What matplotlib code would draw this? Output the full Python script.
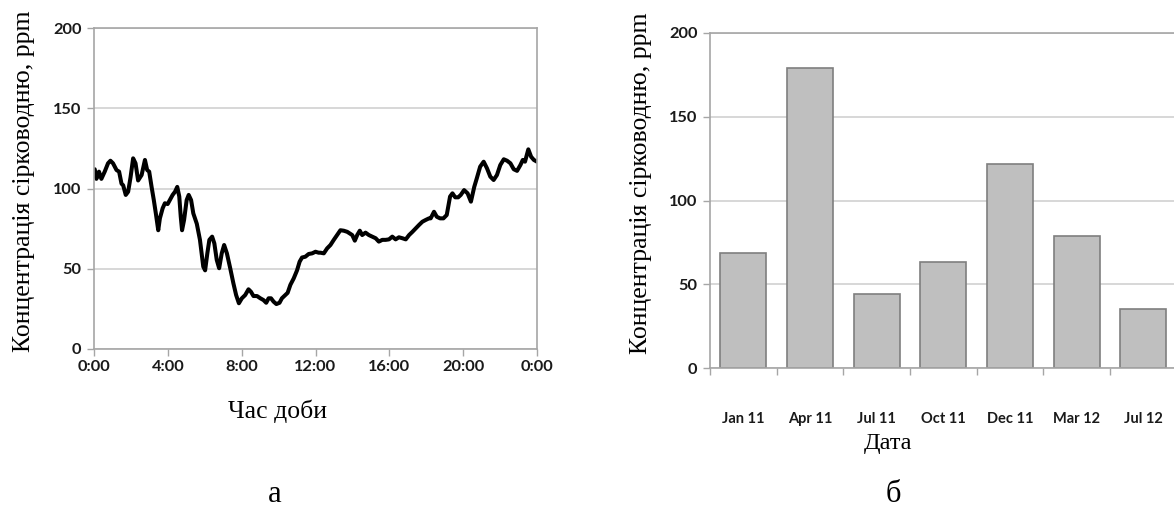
import matplotlib
matplotlib.use("Agg")
import matplotlib.pyplot as plt
from matplotlib.ticker import FixedLocator, NullFormatter

# --- Data -------------------------------------------------------------
# Daily hydrogen sulphide concentration (hours since midnight, ppm)
hours = [0.04, 0.13, 0.27, 0.40, 0.58, 0.76, 0.89, 1.03, 1.22, 1.36, 1.49, 1.58,
         1.72, 1.85, 1.98, 2.12, 2.25, 2.39, 2.58, 2.76, 2.88, 2.99, 3.12, 3.24,
         3.35, 3.48, 3.57, 3.72, 3.84, 3.99, 4.11, 4.26, 4.39, 4.51, 4.62, 4.70,
         4.77, 4.88, 5.02, 5.13, 5.26, 5.38, 5.57, 5.74, 5.92, 6.02, 6.14, 6.25,
         6.40, 6.52, 6.65, 6.78, 6.92, 7.05, 7.20, 7.38, 7.55, 7.70, 7.85, 8.01,
         8.19, 8.37, 8.50, 8.64, 8.83, 9.01, 9.18, 9.33, 9.46, 9.59, 9.73, 9.88,
         10.05, 10.18, 10.36, 10.49, 10.64, 10.82, 11.00, 11.14, 11.27, 11.45,
         11.63, 11.82, 12.00, 12.17, 12.27, 12.45, 12.63, 12.81, 12.99, 13.17,
         13.35, 13.53, 13.72, 13.86, 13.99, 14.13, 14.26, 14.40, 14.53, 14.71,
         14.89, 15.08, 15.26, 15.43, 15.62, 15.80, 15.98, 16.16, 16.34, 16.52,
         16.71, 16.89, 17.07, 17.25, 17.43, 17.61, 17.79, 17.97, 18.15, 18.24,
         18.42, 18.57, 18.75, 18.93, 19.11, 19.29, 19.42, 19.57, 19.73, 19.87,
         20.05, 20.24, 20.42, 20.60, 20.74, 20.92, 21.11, 21.29, 21.47, 21.65,
         21.83, 22.01, 22.20, 22.38, 22.56, 22.74, 22.92, 23.10, 23.23, 23.35,
         23.53, 23.68, 23.83, 24.00]
h2s_daily = [112, 106, 110.5, 106, 110.5, 115.7, 117.3, 115.7, 111.5, 110.5, 103, 102,
             96, 98, 107, 118.8, 115.7, 105, 108.4, 117.8, 111.5, 110.5, 101, 92.8,
             84.5, 74, 81.4, 87.7, 90.8, 90.3, 92.8, 96, 98, 101, 95, 82.4,
             74, 80.4, 92.8, 96, 92.8, 84.5, 78, 68, 51.3, 49, 59.6, 68,
             70, 65.8, 55.5, 50.3, 59.6, 64.8, 59.6, 50.3, 41, 33.6, 28.5, 31.6,
             33.6, 37.2, 35.7, 33, 33, 31.6, 30.5, 28.8, 31.6, 31.6, 29.5, 28,
             28.8, 31.6, 33.6, 35, 40, 44, 49, 54.4, 57, 57.5,
             59.2, 59.6, 60.6, 60, 60, 59.6, 62.7, 64.8, 68, 71,
             74, 73.7, 73, 72, 71, 67.5, 71, 73.7, 71, 72.5,
             71, 70, 69, 66.9, 68, 68, 68.3, 70, 68.3, 69.6,
             69, 68.3, 71, 73, 75.2, 77.3, 79.3, 80.4, 81.4, 81.4,
             85.5, 82.4, 81.4, 81.4, 83.5, 95, 97, 94.5, 94.5, 96,
             99, 97, 91.8, 101, 106.4, 113.6, 116.7, 112.6, 107.4, 105.3,
             108.4, 114.6, 118.2, 117.3, 115.7, 112, 111, 114.6, 117.8, 116.7,
             124.4, 119.8, 117.8, 116.7]
hour_ticks = [0, 4, 8, 12, 16, 20, 24]
hour_labels = ["0:00", "4:00", "8:00", "12:00", "16:00", "20:00", "0:00"]

# Seasonal measurements
dates = ["Jan 11", "Apr 11", "Jul 11", "Oct 11", "Dec 11", "Mar 12", "Jul 12"]
h2s_dates = [68.5, 179, 44, 63, 121.5, 79, 35]

y_ticks = [0, 50, 100, 150, 200]
ylabel = "Концентрація сірководню, ppm"

# --- Styling ----------------------------------------------------------
W, H = 1174, 518
grid_c = "#d4d4d4"
spine_c = "#a6a6a6"
tick_font = dict(family="Lato", weight="bold", size=11.8, color="#1a1a1a")
serif = "Liberation Serif"

fig = plt.figure(figsize=(W / 100, H / 100), dpi=100)


def px_axes(x0, y0, x1, y1):
    return fig.add_axes([x0 / W, 1 - y1 / H, (x1 - x0) / W, (y1 - y0) / H])


def style_common(ax):
    ax.set_ylim(0, 200)
    ax.yaxis.set_major_locator(FixedLocator(y_ticks))
    ax.grid(axis="y", color=grid_c, lw=1.3)
    ax.set_axisbelow(True)
    for s in ax.spines.values():
        s.set_color(spine_c)
        s.set_linewidth(1.2)
    ax.tick_params(axis="both", which="both", direction="out", color=spine_c,
                   length=5, width=1.0)
    ax.set_yticklabels([str(v) for v in y_ticks], fontdict=tick_font)
    ax.tick_params(axis="y", pad=4)


# --- Left panel: daily course -------------------------------------------
ax1 = px_axes(94, 28, 537, 349)
style_common(ax1)
ax1.plot(hours, h2s_daily, color="black", lw=2.9, solid_joinstyle="round",
         solid_capstyle="round")
ax1.set_xlim(0, 24)
ax1.xaxis.set_major_locator(FixedLocator(hour_ticks))
ax1.set_xticklabels(hour_labels, fontdict=tick_font)
ax1.tick_params(axis="x", pad=3)
ax1.set_ylabel(ylabel, family=serif, size=18.5)
ax1.yaxis.set_label_coords(-0.133, 0.523)
fig.text(277 / W, 1 - 411 / H, "Час доби", family=serif, size=18.5,
         ha="center", va="center")

# --- Right panel: measurements by date -----------------------------------
ax2 = px_axes(710, 33, 1176.5, 368)
style_common(ax2)
xpos = list(range(len(dates)))
ax2.bar(xpos, h2s_dates, width=0.69, color="#bfbfbf", edgecolor="#7f7f7f",
        linewidth=1.2)
ax2.set_xlim(-0.5, len(dates) - 0.5)
ax2.xaxis.set_major_locator(FixedLocator(xpos))
ax2.set_xticklabels(dates, fontdict=dict(tick_font, size=10.5))
ax2.xaxis.set_minor_locator(FixedLocator([i - 0.5 for i in range(len(dates) + 1)]))
ax2.xaxis.set_minor_formatter(NullFormatter())
ax2.tick_params(axis="x", which="major", length=0, pad=32)
ax2.tick_params(axis="x", which="minor", length=5)
ax2.spines["right"].set_visible(False)
ax2.set_ylabel(ylabel, family=serif, size=18.5)
ax2.yaxis.set_label_coords(-0.124, 0.552)
fig.text(888 / W, 1 - 444 / H, "Дата", family=serif, size=17.5,
         ha="center", va="center")

# Panel letters
fig.text(275 / W, 1 - 495 / H, "а", family=serif, size=22, ha="center", va="center")
fig.text(893 / W, 1 - 495 / H, "б", family=serif, size=22, ha="center", va="center")

fig.savefig("out.png", dpi=100)
